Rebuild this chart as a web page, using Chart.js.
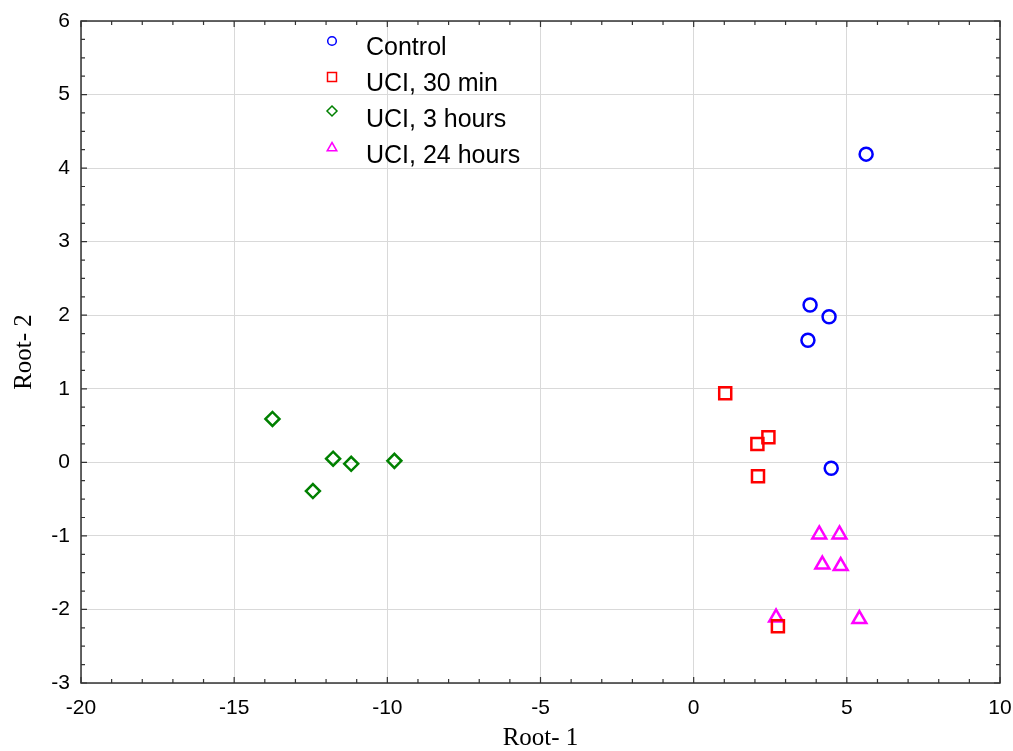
<!DOCTYPE html>
<html>
<head>
<meta charset="utf-8">
<script src="https://cdn.jsdelivr.net/npm/chart.js@4.4.0/dist/chart.umd.min.js"></script>
<style>
  html, body { margin: 0; padding: 0; background: #fff; }
</style>
</head>
<body>
<canvas id="myChart" width="1013" height="751"></canvas>
<script>
// Series values (Root 1, Root 2)
const seriesLabels = ['Control', 'UCI, 30 min', 'UCI, 3 hours', 'UCI, 24 hours'];
const controlX = [5.63, 3.80, 4.42, 3.73, 4.49];
const controlY = [4.19, 2.14, 1.98, 1.66, -0.08];
const min30X = [1.03, 2.08, 2.44, 2.10, 2.75];
const min30Y = [0.94, 0.25, 0.34, -0.19, -2.23];
const hours3X = [-13.75, -11.77, -11.18, -9.77, -12.43];
const hours3Y = [0.59, 0.05, -0.02, 0.02, -0.39];
const hours24X = [4.10, 4.76, 4.20, 4.80, 2.69, 5.41];
const hours24Y = [-0.98, -0.98, -1.39, -1.41, -2.11, -2.13];

const xTicks = [-20, -15, -10, -5, 0, 5, 10];
const yTicks = [-3, -2, -1, 0, 1, 2, 3, 4, 5, 6];

const colors = ['#0000ff', '#ff0000', '#008000', '#ff00ff'];
const styles = ['circle', 'rect', 'rectRot', 'triangle'];
const radii = [6.5, 8.5, 7, 8];

function toPoints(xs, ys) {
    return xs.map((x, i) => ({ x: x, y: ys[i] }));
}

const allX = [controlX, min30X, hours3X, hours24X];
const allY = [controlY, min30Y, hours3Y, hours24Y];

const datasets = seriesLabels.map((label, i) => ({
    label: label,
    data: toPoints(allX[i], allY[i]),
    pointStyle: styles[i],
    pointRadius: radii[i],
    pointHoverRadius: radii[i],
    borderColor: colors[i],
    backgroundColor: 'rgba(0,0,0,0)',
    pointBorderWidth: 2.5
}));

function drawMarker(ctx, style, x, y, r) {
    ctx.beginPath();
    if (style === 'circle') {
        ctx.arc(x, y, r, 0, Math.PI * 2);
    } else if (style === 'rect') {
        ctx.rect(x - r, y - r, 2 * r, 2 * r);
    } else if (style === 'rectRot') {
        ctx.moveTo(x, y - r); ctx.lineTo(x + r, y); ctx.lineTo(x, y + r); ctx.lineTo(x - r, y);
        ctx.closePath();
    } else {
        ctx.moveTo(x, y - r); ctx.lineTo(x + r * 0.87, y + r * 0.5); ctx.lineTo(x - r * 0.87, y + r * 0.5);
        ctx.closePath();
    }
    ctx.stroke();
}

// box around the plot with small inward ticks
const frameTicks = {
    id: 'frameTicks',
    beforeDatasetsDraw(chart) {
        const { ctx, chartArea: a, scales: { x, y } } = chart;
        ctx.save();
        ctx.strokeStyle = '#333';
        ctx.lineWidth = 1.5;
        ctx.strokeRect(a.left, a.top, a.right - a.left, a.bottom - a.top);
        ctx.lineWidth = 1.2;
        ctx.beginPath();
        for (let v = x.min; v <= x.max; v += 1) {
            const px = x.getPixelForValue(v);
            const len = v % 5 === 0 ? 6 : 4;
            ctx.moveTo(px, a.bottom); ctx.lineTo(px, a.bottom - len);
            ctx.moveTo(px, a.top); ctx.lineTo(px, a.top + len);
        }
        for (let v = y.min; v <= y.max + 0.001; v += 0.25) {
            const py = y.getPixelForValue(v);
            const len = Math.abs(v - Math.round(v)) < 0.01 ? 6 : 4;
            ctx.moveTo(a.left, py); ctx.lineTo(a.left + len, py);
            ctx.moveTo(a.right, py); ctx.lineTo(a.right - len, py);
        }
        ctx.stroke();
        ctx.restore();
    }
};

// legend drawn inside the plot area
const insideLegend = {
    id: 'insideLegend',
    afterDraw(chart) {
        const { ctx, chartArea: a } = chart;
        const legendSizes = [4.3, 4.5, 5, 5.5];
        const markerDy = [20, 56, 90, 127];
        const textDy = [34, 70, 106, 142];
        ctx.save();
        chart.data.datasets.forEach((ds, i) => {
            ctx.strokeStyle = colors[i];
            ctx.lineWidth = 1.5;
            drawMarker(ctx, styles[i], a.left + 251, a.top + markerDy[i], legendSizes[i]);
            ctx.fillStyle = '#000';
            ctx.font = '25px "Liberation Sans", Arial, sans-serif';
            ctx.textBaseline = 'alphabetic';
            ctx.textAlign = 'left';
            ctx.fillText(ds.label, a.left + 285, a.top + textDy[i]);
        });
        ctx.restore();
    }
};

const ctx = document.getElementById('myChart').getContext('2d');
const myChart = new Chart(ctx, {
    type: 'scatter',
    data: { datasets: datasets },
    options: {
        responsive: false,
        animation: false,
        layout: { padding: { left: 0, right: 13, top: 21, bottom: 0 } },
        plugins: {
            legend: { display: false },
            tooltip: { enabled: false }
        },
        scales: {
            x: {
                type: 'linear',
                min: -20,
                max: 10,
                afterBuildTicks: scale => { scale.ticks = xTicks.map(v => ({ value: v })); },
                afterFit: scale => {
                    scale.height = 68;
                    scale.paddingLeft = 0;
                    scale.paddingRight = 0;
                },
                grid: { color: '#d9d9d9', lineWidth: 1, drawTicks: false },
                border: { display: false },
                ticks: {
                    color: '#000',
                    padding: 13,
                    font: { family: '"Liberation Sans", Arial, sans-serif', size: 21 }
                },
                title: {
                    display: true,
                    text: 'Root- 1',
                    color: '#000',
                    padding: { top: 0, bottom: 0 },
                    font: { family: '"Liberation Serif", "Times New Roman", serif', size: 25, lineHeight: 1 }
                }
            },
            y: {
                type: 'linear',
                min: -3,
                max: 6,
                afterBuildTicks: scale => { scale.ticks = yTicks.map(v => ({ value: v })); },
                afterFit: scale => {
                    scale.width = 81;
                    scale.paddingTop = 0;
                    scale.paddingBottom = 0;
                },
                grid: { color: '#d9d9d9', lineWidth: 1, drawTicks: false },
                border: { display: false },
                ticks: {
                    color: '#000',
                    padding: 11,
                    font: { family: '"Liberation Sans", Arial, sans-serif', size: 21 }
                },
                title: {
                    display: true,
                    text: 'Root- 2',
                    color: '#000',
                    padding: { top: 12, bottom: 0 },
                    font: { family: '"Liberation Serif", "Times New Roman", serif', size: 25, lineHeight: 1 }
                }
            }
        }
    },
    plugins: [frameTicks, insideLegend]
});
</script>
</body>
</html>
